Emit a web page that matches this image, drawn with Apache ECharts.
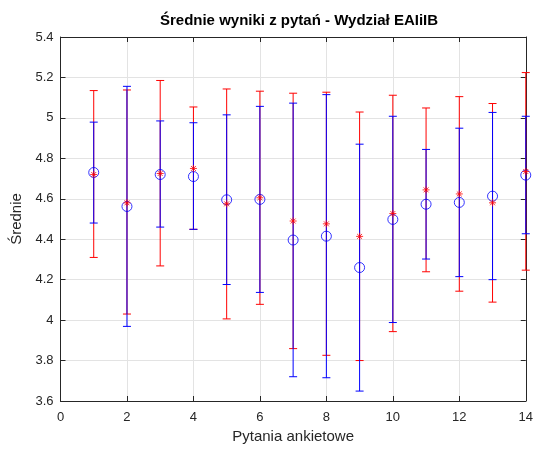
<!DOCTYPE html>
<html><head><meta charset="utf-8">
<script src="https://cdn.jsdelivr.net/npm/echarts@6/dist/echarts.min.js"></script>
<style>html,body{margin:0;padding:0;background:#fff}#c{width:536px;height:449px}</style>
</head><body><div id="c"></div>
<script>
const questions = [1,2,3,4,5,6,7,8,9,10,11,12,13,14];
const redMean  = [4.72,4.58,4.725,4.75,4.575,4.605,4.49,4.476,4.414,4.527,4.644,4.624,4.58,4.735];
const redLow   = [4.31,4.03,4.268,4.449,4.006,4.078,3.859,3.826,3.80,3.943,4.239,4.143,4.089,4.247];
const redHigh  = [5.135,5.138,5.185,5.054,5.143,5.132,5.122,5.127,5.029,5.112,5.049,5.105,5.071,5.224];
const blueMean = [4.73,4.562,4.72,4.71,4.595,4.597,4.396,4.415,4.26,4.498,4.573,4.582,4.613,4.717];
const blueLow  = [4.48,3.969,4.46,4.449,4.176,4.137,3.72,3.715,3.649,3.988,4.302,4.215,4.2,4.427];
const blueHigh = [4.979,5.156,4.985,4.976,5.015,5.057,5.073,5.115,4.87,5.008,4.844,4.949,5.027,5.008];
const xTicks = [0,2,4,6,8,10,12,14];
const yTicks = [3.6,3.8,4,4.2,4.4,4.6,4.8,5,5.2,5.4];

const FONT = '"Liberation Sans", Arial, Helvetica, sans-serif';
const AX = '#262626';

function errData(low, high){ return questions.map((q,i)=>[q, low[i], high[i]]); }
function errRender(color){
  return function(params, api){
    const x = api.value(0);
    const p1 = api.coord([x, api.value(1)]);
    const p2 = api.coord([x, api.value(2)]);
    const w = 4;
    const st = {stroke: color, lineWidth: 1};
    return {type:'group', children:[
      {type:'line', shape:{x1:p1[0],y1:p1[1],x2:p2[0],y2:p2[1]}, style:st},
      {type:'line', shape:{x1:p1[0]-w,y1:p1[1],x2:p1[0]+w,y2:p1[1]}, style:st},
      {type:'line', shape:{x1:p2[0]-w,y1:p2[1],x2:p2[0]+w,y2:p2[1]}, style:st}
    ]};
  };
}
const asterisk = 'path://M0,-1L0,1M-1,0L1,0M-0.7,-0.7L0.7,0.7M-0.7,0.7L0.7,-0.7';

const chart = echarts.init(document.getElementById('c'));
chart.setOption({
  animation:false,
  title:{text:'Średnie wyniki z pytań - Wydział EAIiIB', left:294, top:8, textAlign:'center',
    textStyle:{fontFamily:FONT, fontSize:15, fontWeight:'bold', color:'#000'}},
  grid:{left:60.5, right:6.5, top:37, bottom:43, show:false},
  xAxis:[{
    type:'value', min:0, max:14, interval:2, position:'bottom',
    name:'Pytania ankietowe', nameLocation:'middle', nameGap:28,
    nameTextStyle:{fontFamily:FONT, fontSize:15, color:AX},
    axisLine:{show:true, onZero:false, lineStyle:{color:AX, width:1}},
    axisTick:{show:true, inside:true, length:5, lineStyle:{color:AX}},
    axisLabel:{fontFamily:FONT, fontSize:13, color:AX, margin:10},
    splitLine:{show:true, lineStyle:{color:'#e3e3e3', width:1}}
  },{
    type:'value', min:0, max:14, interval:2, position:'top',
    axisLine:{show:true, onZero:false, lineStyle:{color:AX, width:1}},
    axisTick:{show:true, inside:true, length:5, lineStyle:{color:AX}},
    axisLabel:{show:false}, splitLine:{show:false}
  }],
  yAxis:[{
    type:'value', min:3.6, max:5.4, interval:0.2, position:'left',
    name:'Średnie', nameLocation:'middle', nameGap:32, nameRotate:90,
    nameTextStyle:{fontFamily:FONT, fontSize:15, color:AX},
    axisLine:{show:true, onZero:false, lineStyle:{color:AX, width:1}},
    axisTick:{show:true, inside:true, length:5, lineStyle:{color:AX}},
    axisLabel:{fontFamily:FONT, fontSize:13, color:AX, margin:7,
      formatter:v=>String(parseFloat(v.toFixed(1)))},
    splitLine:{show:true, lineStyle:{color:'#e3e3e3', width:1}}
  },{
    type:'value', min:3.6, max:5.4, interval:0.2, position:'right',
    axisLine:{show:true, onZero:false, lineStyle:{color:AX, width:1}},
    axisTick:{show:true, inside:true, length:5, lineStyle:{color:AX}},
    axisLabel:{show:false}, splitLine:{show:false}
  }],
  series:[
    {type:'custom', name:'redErr', data:errData(redLow, redHigh), renderItem:errRender('#ff0000'),
      encode:{x:0, y:[1,2]}, z:2, clip:false},
    {type:'custom', name:'blueErr', data:errData(blueLow, blueHigh), renderItem:errRender('#0000ff'),
      encode:{x:0, y:[1,2]}, z:3, clip:false},
    {type:'scatter', name:'blue', data:questions.map((q,i)=>[q, blueMean[i]]), symbol:'circle', symbolSize:10,
      itemStyle:{color:'rgba(0,0,0,0)', borderColor:'#0000ff', borderWidth:1}, z:4},
    {type:'scatter', name:'red', data:questions.map((q,i)=>[q, redMean[i]]), symbol:asterisk, symbolSize:7,
      itemStyle:{color:'rgba(0,0,0,0)', borderColor:'#ff0000', borderWidth:1}, z:5}
  ]
});
</script></body></html>
